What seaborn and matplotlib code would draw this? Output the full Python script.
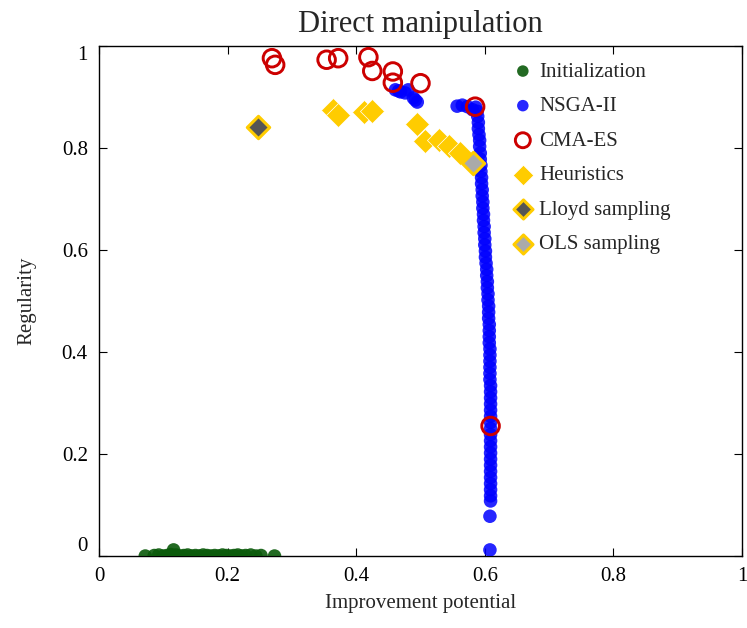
import matplotlib
matplotlib.use("Agg")
import matplotlib.pyplot as plt
import seaborn as sns
import pandas as pd

# ---------------- data ----------------
init_x = [0.072, 0.086, 0.093, 0.100, 0.106, 0.112, 0.116, 0.120, 0.126, 0.132,
          0.138, 0.144, 0.150, 0.156, 0.162, 0.168, 0.174, 0.180, 0.186, 0.192,
          0.198, 0.204, 0.210, 0.216, 0.222, 0.228, 0.236, 0.244, 0.252, 0.273]
init_y = [0.000, 0.001, 0.002, 0.000, 0.001, 0.003, 0.012, 0.002, 0.000, 0.001,
          0.002, 0.000, 0.001, 0.000, 0.002, 0.001, 0.000, 0.001, 0.000, 0.002,
          0.001, 0.000, 0.001, 0.002, 0.000, 0.001, 0.002, 0.000, 0.001, 0.000]

nsga_x = [0.461, 0.466, 0.469, 0.476, 0.481, 0.489, 0.492, 0.495, 0.557, 0.565,
          0.573, 0.581,
          0.586, 0.588, 0.589, 0.590, 0.590, 0.591, 0.592, 0.592, 0.593, 0.593,
          0.594, 0.594, 0.595, 0.595, 0.596, 0.596, 0.597, 0.597, 0.598, 0.598,
          0.599, 0.599, 0.600, 0.600, 0.601, 0.601, 0.602, 0.603, 0.603, 0.604,
          0.604, 0.605, 0.605, 0.606, 0.606, 0.606, 0.607, 0.607, 0.607, 0.607,
          0.608, 0.608, 0.608, 0.608, 0.608, 0.608, 0.609, 0.609, 0.609, 0.609,
          0.609, 0.609, 0.609, 0.609, 0.609, 0.609, 0.609, 0.609, 0.609, 0.609,
          0.609, 0.609, 0.609, 0.609, 0.609, 0.609, 0.608, 0.608]
nsga_y = [0.914, 0.912, 0.910, 0.908, 0.914, 0.898, 0.894, 0.890, 0.882, 0.884,
          0.881, 0.875,
          0.880, 0.872, 0.862, 0.850, 0.838, 0.826, 0.815, 0.803, 0.790, 0.778,
          0.766, 0.754, 0.742, 0.730, 0.718, 0.706, 0.694, 0.682, 0.670, 0.658,
          0.646, 0.634, 0.622, 0.610, 0.598, 0.586, 0.574, 0.562, 0.550, 0.538,
          0.526, 0.514, 0.502, 0.490, 0.478, 0.466, 0.454, 0.442, 0.430, 0.418,
          0.406, 0.394, 0.382, 0.370, 0.358, 0.346, 0.334, 0.322, 0.310, 0.298,
          0.286, 0.274, 0.262, 0.250, 0.238, 0.226, 0.214, 0.202, 0.190, 0.178,
          0.166, 0.154, 0.142, 0.130, 0.118, 0.108, 0.078, 0.012]

cma_x = [0.269, 0.274, 0.354, 0.372, 0.419, 0.425, 0.457, 0.457, 0.500, 0.585, 0.609]
cma_y = [0.976, 0.963, 0.973, 0.976, 0.978, 0.951, 0.950, 0.928, 0.927, 0.881, 0.255]

heur_x = [0.364, 0.371, 0.412, 0.425, 0.495, 0.507, 0.529, 0.544, 0.562]
heur_y = [0.875, 0.865, 0.871, 0.873, 0.847, 0.814, 0.816, 0.803, 0.790]

lloyd_x = [0.248]
lloyd_y = [0.841]

ols_x = [0.581]
ols_y = [0.771]

labels = ["Initialization", "NSGA-II", "CMA-ES", "Heuristics",
          "Lloyd sampling", "OLS sampling"]
xticks = [0, 0.2, 0.4, 0.6, 0.8, 1]
yticks = [0, 0.2, 0.4, 0.6, 0.8, 1]

# ---------------- style ----------------
sns.set_style("ticks")
plt.rcParams["font.family"] = ["Liberation Serif", "DejaVu Serif"]

fig = plt.figure(figsize=(7.47, 6.28), dpi=100)
ax = fig.add_axes([0.1325, 0.1146, 0.8608, 0.8122])

GREEN = "#0b5a0b"
BLUE = "#0000ff"
RED = "#cc0000"
YELLOW = "#ffcc00"

sns.scatterplot(x=init_x, y=init_y, ax=ax, color=GREEN, s=95, marker="o",
                edgecolor="none", alpha=0.9, label=labels[0], zorder=3)
sns.scatterplot(x=nsga_x, y=nsga_y, ax=ax, color=BLUE, s=95, marker="o",
                edgecolor="none", alpha=0.85, label=labels[1], zorder=3)
sns.scatterplot(x=cma_x, y=cma_y, ax=ax, s=160, marker="o", facecolor="none",
                edgecolor=RED, linewidth=2.1, label=labels[2], zorder=5)
sns.scatterplot(x=heur_x, y=heur_y, ax=ax, s=150, marker="D", color=YELLOW,
                edgecolor="white", linewidth=0.5, label=labels[3], zorder=4)
sns.scatterplot(x=lloyd_x, y=lloyd_y, ax=ax, s=130, marker="D", color="#555555",
                edgecolor=YELLOW, linewidth=2.2, label=labels[4], zorder=4)
sns.scatterplot(x=ols_x, y=ols_y, ax=ax, s=130, marker="D", color="#aaaaaa",
                edgecolor=YELLOW, linewidth=2.2, label=labels[5], zorder=4)

ax.set_xlim(0, 1)
ax.set_ylim(0, 1)
ax.set_xticks(xticks)
ax.set_yticks(yticks)
ax.set_xticklabels([f"{t:g}" for t in xticks])
ax.set_yticklabels([f"{t:g}" for t in yticks])
ax.tick_params(direction="in", length=6, width=0.8, top=True, right=True,
               labelsize=15, pad=8, colors="black")
ylabs = ax.get_yticklabels()
ylabs[0].set_va("bottom")
ylabs[-1].set_va("top")
for sp in ax.spines.values():
    sp.set_visible(True)
    sp.set_linewidth(1.0)
    sp.set_color("black")

ax.set_xlabel("Improvement potential", fontsize=15, labelpad=6)
ax.set_ylabel("Regularity", fontsize=15, labelpad=18)
ax.set_title("Direct manipulation", fontsize=22, pad=10)

leg = ax.legend(loc="upper left", bbox_to_anchor=(0.63, 0.985), frameon=False,
                fontsize=15, handlelength=1.0, handletextpad=0.3,
                labelspacing=0.72, borderaxespad=0.0, markerscale=0.85)

fig.savefig("out.png", dpi=100)
